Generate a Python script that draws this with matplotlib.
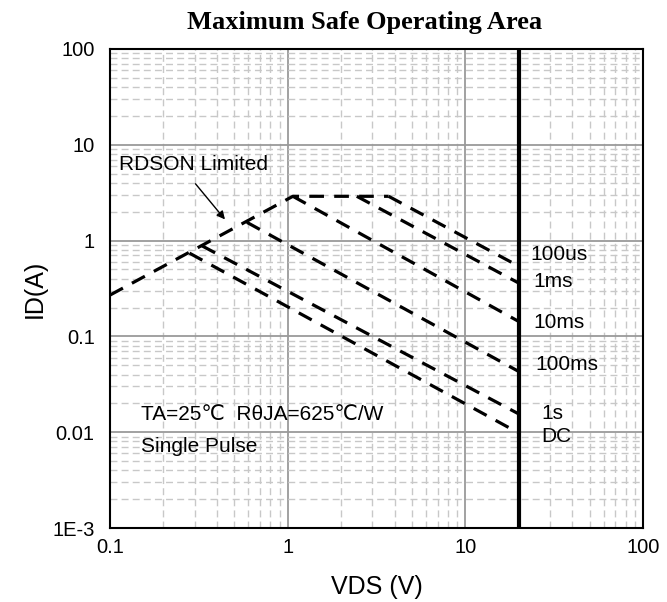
import matplotlib as mpl
import matplotlib.pyplot as plt
from matplotlib.ticker import FixedLocator, FixedFormatter, LogLocator, NullFormatter

# RDSON limit line (shared rising edge) and flat top
rdson_x = [0.1, 1.07, 3.7]
rdson_y = [0.27, 2.9, 2.9]

# pulse-width curves: start vertex -> end at VDS = 20 V
curve_names = ["100us", "1ms", "10ms", "100ms", "1s", "DC"]
curve_x = [[3.7, 20], [2.45, 20], [1.07, 20], [0.59, 20], [0.33, 20], [0.28, 20]]
curve_y = [[2.9, 0.54], [2.9, 0.36], [2.9, 0.143], [1.55, 0.043], [0.88, 0.0155], [0.74, 0.0098]]
label_x = [23.2, 24.0, 24.0, 24.7, 26.7, 26.7]
label_y = [0.71, 0.374, 0.14, 0.051, 0.0157, 0.0091]

vds_max = 20
xticks = [0.1, 1, 10, 100]
xlabels = ["0.1", "1", "10", "100"]
yticks = [1e-3, 0.01, 0.1, 1, 10, 100]
ylabels = ["1E-3", "0.01", "0.1", "1", "10", "100"]

mpl.rcParams["font.family"] = ["Liberation Sans", "DejaVu Sans"]

fig = plt.figure(figsize=(6.67, 6.02), dpi=100)
ax = fig.add_axes([110 / 667, 74 / 602, 533 / 667, 479 / 602])
ax.set_xscale("log")
ax.set_yscale("log")
ax.set_xlim(0.1, 100)
ax.set_ylim(1e-3, 100)

ax.xaxis.set_major_locator(FixedLocator(xticks))
ax.xaxis.set_major_formatter(FixedFormatter(xlabels))
ax.yaxis.set_major_locator(FixedLocator(yticks))
ax.yaxis.set_major_formatter(FixedFormatter(ylabels))
for a in (ax.xaxis, ax.yaxis):
    a.set_minor_locator(LogLocator(base=10, subs=range(2, 10), numticks=20))
    a.set_minor_formatter(NullFormatter())

ax.grid(True, which="major", color="#9a9a9a", lw=1.3, ls="-")
ax.grid(True, which="minor", color="#c8c8c8", lw=1.0, ls=(0, (5, 3)))
ax.tick_params(which="both", length=0, labelsize=14.5)
ax.tick_params(axis="y", pad=11)
ax.tick_params(axis="x", pad=7)

dash = (0, (4.6, 3.2))
ax.plot(rdson_x, rdson_y, color="black", lw=2.3, ls=dash, dash_capstyle="butt")
for cx, cy in zip(curve_x, curve_y):
    ax.plot(cx, cy, color="black", lw=2.3, ls=dash, dash_capstyle="butt")
for name, lx, ly in zip(curve_names, label_x, label_y):
    ax.text(lx, ly, name, fontsize=15, va="center", ha="left")

ax.axvline(vds_max, color="black", lw=3)

ax.text(0.112, 6.2, "RDSON Limited", fontsize=15, va="center", ha="left")
ax.annotate("", xy=(0.454, 1.58), xytext=(0.296, 4.12),
            arrowprops=dict(arrowstyle="-|>", color="black", lw=1.0, mutation_scale=12))
ax.text(0.149, 0.0154, "TA=25\u2103  R\u03b8JA=625\u2103/W", fontsize=15, va="center", ha="left")
ax.text(0.149, 0.00714, "Single Pulse", fontsize=15, va="center", ha="left")

for s in ax.spines.values():
    s.set_color("black")
    s.set_linewidth(1.5)

ax.set_xlabel("VDS (V)", fontsize=18, labelpad=13)
ax.set_ylabel("ID(A)", fontsize=18, labelpad=4)
fig.text(365 / 667, 1 - 22 / 602, "Maximum Safe Operating Area", fontsize=19,
         fontweight="bold", family="Liberation Serif", ha="center", va="center")

fig.savefig("out.png", dpi=100)
